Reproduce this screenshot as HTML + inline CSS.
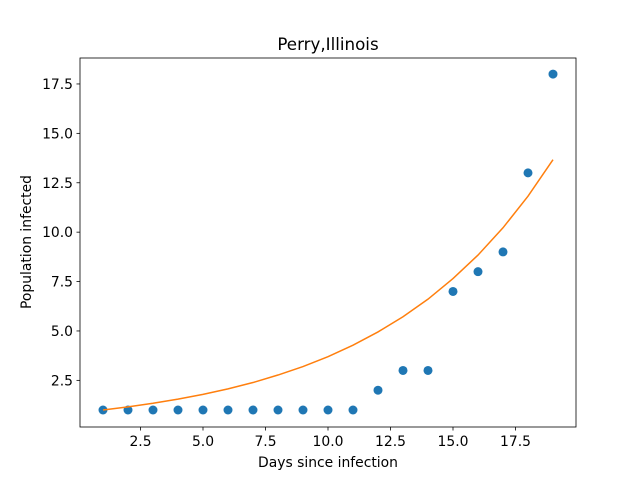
<!DOCTYPE html>
<html><head><meta charset="utf-8"><style>
body{margin:0;background:#fff;}
svg text{font-family:"DejaVu Sans","Liberation Sans",sans-serif;fill:#000;}
</style></head><body>
<svg id="chart" width="640" height="480" xmlns="http://www.w3.org/2000/svg">
<rect width="640" height="480" fill="#fff"/>
<text x="328" y="50" font-size="16.7" text-anchor="middle">Perry,Illinois</text>
<text x="328" y="467" font-size="13.9" text-anchor="middle">Days since infection</text>
<text transform="translate(31,242) rotate(-90)" font-size="13.9" text-anchor="middle">Population infected</text>
<g id="plot"></g>
<rect x="80" y="58" width="496" height="369" fill="none" stroke="#000" stroke-width="0.8"/>
</svg>
<script>
const days = [1,2,3,4,5,6,7,8,9,10,11,12,13,14,15,16,17,18,19];
const infected = [1,1,1,1,1,1,1,1,1,1,1,2,3,3,7,8,9,13,18];
const fitted = [1.00,1.16,1.34,1.55,1.79,2.07,2.39,2.77,3.20,3.70,4.28,4.95,5.72,6.61,7.65,8.84,10.22,11.82,13.67];
const xTicks = [2.5,5.0,7.5,10.0,12.5,15.0,17.5];
const yTicks = [2.5,5.0,7.5,10.0,12.5,15.0,17.5];
function xs(v){return 103+(v-1)*25;}
function ys(v){return 410-(v-1)*19.76;}
const ns="http://www.w3.org/2000/svg";
const g=document.getElementById('plot');
function mk(t,a){const e=document.createElementNS(ns,t);for(const k in a)e.setAttribute(k,a[k]);g.appendChild(e);return e;}
xTicks.forEach(v=>{
  const l=mk('line',{x1:xs(v),x2:xs(v),y1:427,y2:430.5,stroke:'#000','stroke-width':0.8});
  
  
  const t=mk('text',{x:xs(v),y:446,'font-size':13.9,'text-anchor':'middle'});
  t.textContent=v.toFixed(1);
  
  
});
yTicks.forEach(v=>{
  const l=mk('line',{x1:76.5,x2:80,y1:ys(v),y2:ys(v),stroke:'#000','stroke-width':0.8});
  
  
  const t=mk('text',{x:73,y:ys(v)+5,'font-size':13.9,'text-anchor':'end'});
  t.textContent=v.toFixed(1);
  
  
});
infected.forEach((v,i)=>{
  const c=mk('circle',{cx:xs(days[i]),cy:ys(v),r:4.5,fill:'#1f77b4'});
  
  
});
const p=mk('polyline',{points:fitted.map((v,i)=>xs(days[i])+','+ys(v)).join(' '),fill:'none',stroke:'#ff7f0e','stroke-width':1.5});


</script>
</body></html>
